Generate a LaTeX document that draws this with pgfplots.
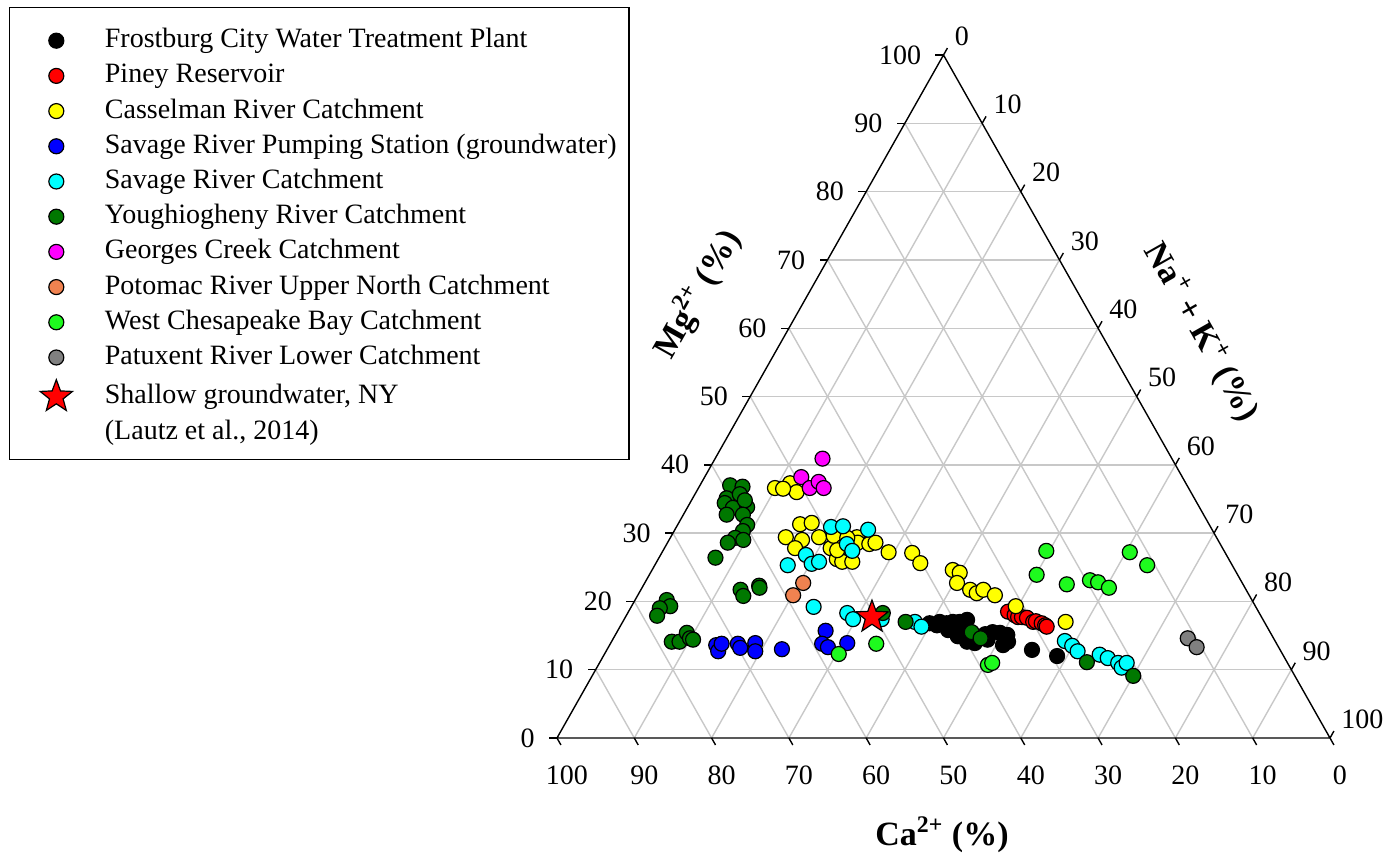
\documentclass[border=0pt]{standalone}
\usepackage{fontspec}
\setmainfont{Liberation Serif}
\usepackage{pgfplots}
\pgfplotsset{compat=1.18}
\usepackage{pgfplotstable}
\usetikzlibrary{plotmarks}

\definecolor{ygreen}{RGB}{0,120,0}
\definecolor{lgreen}{RGB}{30,250,30}
\definecolor{porange}{RGB}{240,130,80}
\definecolor{gridc}{RGB}{200,200,200}
\definecolor{pcyan}{RGB}{0,255,255}
\definecolor{pmag}{RGB}{255,0,255}
\definecolor{pyel}{RGB}{255,255,0}
\definecolor{pblue}{RGB}{0,0,255}
\definecolor{pred}{RGB}{255,0,0}
\definecolor{pgray}{RGB}{128,128,128}
\newcommand\tfont{\fontsize{14}{16}\selectfont}

\pgfdeclareplotmark{fstar}{%
  \pgfpathmoveto{\pgfqpointpolar{90}{\pgfplotmarksize}}%
  \pgfpathlineto{\pgfqpointpolar{126}{0.42\pgfplotmarksize}}%
  \pgfpathlineto{\pgfqpointpolar{162}{\pgfplotmarksize}}%
  \pgfpathlineto{\pgfqpointpolar{198}{0.42\pgfplotmarksize}}%
  \pgfpathlineto{\pgfqpointpolar{234}{\pgfplotmarksize}}%
  \pgfpathlineto{\pgfqpointpolar{270}{0.42\pgfplotmarksize}}%
  \pgfpathlineto{\pgfqpointpolar{306}{\pgfplotmarksize}}%
  \pgfpathlineto{\pgfqpointpolar{342}{0.42\pgfplotmarksize}}%
  \pgfpathlineto{\pgfqpointpolar{18}{\pgfplotmarksize}}%
  \pgfpathlineto{\pgfqpointpolar{54}{0.42\pgfplotmarksize}}%
  \pgfpathclose
  \pgfusepathqfillstroke}

\pgfplotsset{
  mk/.style={only marks, mark=*, mark size=3.75pt, draw=black, line width=0.6pt, fill=#1,
    legend image code/.code={\path (-19pt,0pt) (24pt,0pt); \draw[##1] plot coordinates {(0pt,0pt)};}},
}

% Ca (%) and Mg (%) ; Na+K = 100 - Ca - Mg
\pgfplotstableread{
Ca Mg
43.4 16.8
42.6 16.5
42.0 17.0
41.2 16.8
41.5 15.8
40.3 17.0
39.4 17.0
40.0 15.8
38.3 17.3
40.1 16.3
40.7 14.9
39.9 14.1
39.0 13.9
37.1 14.4
37.0 15.2
35.9 15.5
35.0 15.4
34.2 15.1
34.6 14.1
35.5 13.6
32.1 12.9
29.3 12.0
}\frost
\pgfplotstableread{
Ca Mg
32.4 18.5
31.8 18.0
31.5 17.7
31.0 17.7
30.4 17.6
29.9 17.0
29.5 17.1
28.9 16.8
28.6 16.5
28.5 16.3
}\piney
\pgfplotstableread{
Ca Mg
53.5 36.6
51.2 37.3
51.0 36.0
52.5 36.5
52.9 31.3
51.3 31.5
55.7 29.4
53.8 29.0
55.3 27.8
51.4 29.4
50.7 27.8
49.4 29.6
50.7 26.2
50.2 25.8
48.9 25.8
46.5 29.4
46.8 28.6
45.4 28.4
44.5 28.6
43.5 27.2
40.5 27.1
40.2 25.6
49.0 28.0
47.8 29.3
50.0 27.5
36.5 24.6
35.8 24.2
36.9 22.7
35.7 21.7
35.1 21.2
34.0 21.7
32.9 20.9
31.0 19.3
25.7 17.0
}\cassel
\pgfplotstableread{
Ca Mg
72.6 13.6
72.8 12.7
71.8 13.8
69.7 13.8
69.7 13.2
67.4 13.9
68.0 12.7
64.4 13.0
57.4 15.7
58.8 13.8
58.3 13.3
55.5 13.9
}\pumping
\pgfplotstableread{
Ca Mg
49.1 30.9
47.5 31.0
44.5 30.5
48.3 28.4
48.1 27.4
54.4 26.8
54.3 25.5
53.2 25.8
57.5 25.3
57.2 19.2
53.3 18.3
53.0 17.4
49.3 17.4
45.2 17.0
44.7 16.3
27.2 14.2
26.6 13.5
26.3 12.7
23.7 12.2
22.9 11.7
21.9 11.0
21.8 10.3
20.8 11.0
}\savage
\pgfplotstableread{
Ca Mg
59.1 37.0
57.6 36.8
60.5 35.1
58.5 35.7
61.1 34.4
60.4 33.7
58.5 33.8
58.3 34.8
61.7 32.7
59.6 32.7
59.8 31.2
60.8 30.3
62.3 29.3
61.4 29.0
63.6 28.6
66.3 26.4
65.4 21.7
65.5 20.8
62.7 22.3
62.8 22.0
75.7 20.2
75.7 19.3
77.2 19.0
78.1 17.9
78.1 14.1
77.1 14.1
75.5 15.4
75.5 14.6
75.2 14.4
48.7 18.3
46.4 17.0
38.6 15.5
37.9 14.6
25.9 11.1
20.9 9.1
}\yough
\pgfplotstableread{
Ca Mg
45.2 40.9
49.3 38.2
49.0 36.6
47.4 37.5
47.2 36.6
}\georges
\pgfplotstableread{
Ca Mg
56.8 22.7
59.0 20.9
}\potomac
\pgfplotstableread{
Ca Mg
57.4 12.3
51.8 13.8
38.9 10.7
38.2 11.0
26.0 23.9
23.0 27.4
22.8 22.5
19.5 23.1
18.6 22.8
17.6 22.0
12.3 27.2
11.0 25.3
}\chesa
\pgfplotstableread{
Ca Mg
11.1 14.6
10.6 13.3
}\patux
\pgfplotstableread{
Ca Mg
50.4 17.7
}\lautz

\begin{document}
\begin{tikzpicture}
\useasboundingbox (-278.5pt,-60.5pt) rectangle (415pt,369pt);
\begin{axis}[
  at={(0pt,0pt)}, anchor=south west,
  scale only axis, width=386.5pt, height=341.5pt,
  xmin=0, xmax=100, ymin=0, ymax=100,
  hide axis, clip=false,
  table/x expr={100-\thisrow{Ca}-0.5*\thisrow{Mg}},
  table/y expr={\thisrow{Mg}},
  legend style={at={(-0.7089,1.0703)}, anchor=north west, draw=black, line width=0.7pt,
    font=\tfont, inner xsep=4pt, inner ysep=10pt, row sep=4.6pt,
    nodes={inner sep=0pt, text height=10pt, text depth=3pt},
    cells={anchor=west}},
  legend cell align=left,
]
% grid
\pgfplotsinvokeforeach{10,20,...,90}{
  \draw[gridc, line width=0.7pt] (axis cs:{#1/2},#1) -- (axis cs:{100-#1/2},#1);
  \draw[gridc, line width=0.7pt] (axis cs:{100-#1},0) -- (axis cs:{(100-#1)/2},{100-#1});
  \draw[gridc, line width=0.7pt] (axis cs:#1,0) -- (axis cs:{50+#1/2},{100-#1});
}
\draw[black, line width=0.7pt] (axis cs:0,0) -- (axis cs:100,0) -- (axis cs:50,100) -- cycle;
\pgfplotsinvokeforeach{0,10,...,100}{
  \draw[black, line width=0.7pt] (axis cs:{#1/2},#1) -- ++(-4pt,0pt);
  \node[anchor=east, inner sep=0pt, font=\tfont, xshift=-11pt] at (axis cs:{#1/2},#1) {#1};
  \draw[black, line width=0.7pt] (axis cs:{50+#1/2},{100-#1}) -- ++(1.97pt,3.48pt);
  \node[anchor=south west, inner sep=0pt, font=\tfont, xshift=5.5pt, yshift=4.5pt] at (axis cs:{50+#1/2},{100-#1}) {#1};
  \draw[black, line width=0.7pt] (axis cs:{100-#1},0) -- ++(1.97pt,-3.48pt);
  \node[anchor=north, inner sep=0pt, font=\tfont, xshift=5pt, yshift=-13.5pt] at (axis cs:{100-#1},0) {#1};
}

\addplot[mk=black] table {\frost};
\addlegendentry{\makebox[258pt][l]{Frostburg City Water Treatment Plant}}
\addplot[mk=pred] table {\piney};
\addlegendentry{Piney Reservoir}
\addplot[mk=pyel] table {\cassel};
\addlegendentry{Casselman River Catchment}
\addplot[mk=pblue] table {\pumping};
\addlegendentry{Savage River Pumping Station (groundwater)}
\addplot[mk=pcyan] table {\savage};
\addlegendentry{Savage River Catchment}
\addplot[mk=ygreen] table {\yough};
\addlegendentry{Youghiogheny River Catchment}
\addplot[mk=pmag] table {\georges};
\addlegendentry{Georges Creek Catchment}
\addplot[mk=porange] table {\potomac};
\addlegendentry{Potomac River Upper North Catchment}
\addplot[mk=lgreen] table {\chesa};
\addlegendentry{West Chesapeake Bay Catchment}
\addplot[mk=pgray] table {\patux};
\addlegendentry{Patuxent River Lower Catchment}
\addplot[mk=pred, mark=fstar, mark size=8.5pt] table {\lautz};
\addlegendentry{Shallow groundwater, NY}
\addlegendimage{empty legend}
\addlegendentry[text depth=0pt]{(Lautz et al., 2014)}
\end{axis}
\node[font=\bfseries\fontsize{17}{20}\selectfont] at (192.5pt,-48.5pt) {Ca\textsuperscript{2+} (\%)};
\node[font=\bfseries\fontsize{17}{20}\selectfont, rotate=60.5] at (70pt,222pt) {Mg\textsuperscript{2+} (\%)};
\node[font=\bfseries\fontsize{17}{20}\selectfont, rotate=-60.5] at (322pt,203pt) {Na\textsuperscript{+} + K\textsuperscript{+} (\%)};
\end{tikzpicture}
\end{document}
